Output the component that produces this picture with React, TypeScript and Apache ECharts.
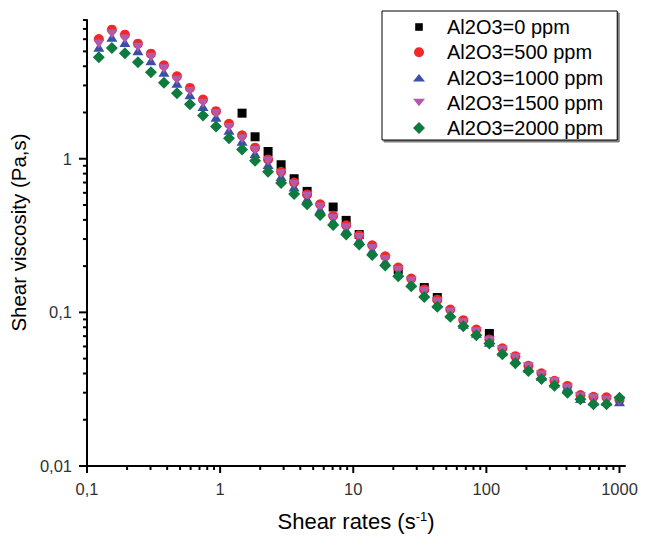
import React, { useEffect, useRef } from 'react';
import * as echarts from 'echarts';

// Shear rates (s^-1)
const shearRates = [0.1227, 0.1538, 0.1926, 0.2412, 0.302, 0.3783, 0.4738, 0.5934, 0.7437, 0.9312, 1.166, 1.461, 1.83, 2.292, 2.871, 3.595, 4.503, 5.64, 7.063, 8.847, 11.08, 13.88, 17.39, 21.77, 27.27, 34.16, 42.79, 53.58, 67.12, 84.07, 105.3, 131.9, 165.2, 206.9, 259.1, 324.6, 406.4, 509.1, 637.6, 798.6, 1000];

// Shear viscosity (Pa,s) per series
const visc0 = [null, null, null, null, null, null, null, null, null, null, null, 1.98, 1.39, 1.115, 0.914, 0.741, 0.613, null, 0.485, 0.397, 0.321, null, null, 0.19, null, 0.145, 0.125, null, null, null, 0.0729, null, null, null, null, null, null, null, null, null, null];
const visc500 = [6.02, 6.92, 6.42, 5.61, 4.83, 4.06, 3.44, 2.89, 2.43, 2.04, 1.69, 1.42, 1.18, 0.99, 0.823, 0.7, 0.586, 0.505, 0.425, 0.369, 0.317, 0.273, 0.232, 0.196, 0.166, 0.141, 0.121, 0.1044, 0.089, 0.0774, 0.0667, 0.0583, 0.0519, 0.0449, 0.0401, 0.0359, 0.0332, 0.029, 0.0282, 0.028, 0.0269];
const visc1000 = [5.31, 6.17, 5.72, 5.05, 4.35, 3.65, 3.1, 2.61, 2.19, 1.86, 1.53, 1.3, 1.08, 0.918, 0.767, 0.654, 0.548, 0.468, 0.394, 0.345, 0.297, 0.254, 0.215, 0.1825, 0.156, 0.1333, 0.1139, 0.098, 0.0838, 0.0732, 0.064, 0.0555, 0.0496, 0.0434, 0.0382, 0.0347, 0.0325, 0.0275, 0.0265, 0.0263, 0.0262];
const visc1500 = [5.59, 6.49, 6.02, 5.31, 4.57, 3.85, 3.26, 2.74, 2.3, 1.96, 1.6, 1.35, 1.13, 0.965, 0.799, 0.681, 0.569, 0.485, 0.408, 0.355, 0.307, 0.26, 0.221, 0.188, 0.16, 0.1373, 0.117, 0.1007, 0.0855, 0.0747, 0.0653, 0.0568, 0.0506, 0.0442, 0.0391, 0.0353, 0.0322, 0.0282, 0.0276, 0.0269, 0.0265];
const visc2000 = [4.57, 5.26, 4.86, 4.24, 3.65, 3.12, 2.67, 2.26, 1.91, 1.62, 1.36, 1.149, 0.97, 0.823, 0.694, 0.589, 0.505, 0.43, 0.37, 0.321, 0.277, 0.236, 0.2017, 0.1718, 0.148, 0.126, 0.1086, 0.0935, 0.0811, 0.0711, 0.0628, 0.0533, 0.0466, 0.0415, 0.0368, 0.0333, 0.03, 0.0272, 0.0252, 0.0252, 0.0278];

const seriesNames = ['Al2O3=0 ppm', 'Al2O3=500 ppm', 'Al2O3=1000 ppm', 'Al2O3=1500 ppm', 'Al2O3=2000 ppm'];
const seriesColors = ['#000000', '#f02828', '#3a4fa8', '#b45aaa', '#0f7a3e'];

// Axis ticks and labels
const xMajorTicks = [0.1, 1, 10, 100, 1000];
const xTickLabels = ['0,1', '1', '10', '100', '1000'];
const xMinorTicks = [0.2, 0.3, 0.4, 0.5, 0.6, 0.7, 0.8, 0.9, 2, 3, 4, 5, 6, 7, 8, 9, 20, 30, 40, 50, 60, 70, 80, 90, 200, 300, 400, 500, 600, 700, 800, 900];
const yMajorTicks = [0.01, 0.1, 1];
const yTickLabels = ['0,01', '0,1', '1'];
const yMinorTicks = [0.02, 0.03, 0.04, 0.05, 0.06, 0.07, 0.08, 0.09, 0.2, 0.3, 0.4, 0.5, 0.6, 0.7, 0.8, 0.9, 2, 3, 4, 5, 6, 7, 8];

const X_MIN = 0.1, X_MAX = 1100, Y_MIN = 0.01, Y_MAX = 8;
const FONT = "'Liberation Sans', Arial, sans-serif";

// legend icons inside a 12x12 box (leading moveTos fix the box)
const BOX = 'path://M0,0M12,12';
const legendIcons = [
  BOX + 'M2.2,2.2H9.8V9.8H2.2Z',
  BOX + 'M1,6A5,5,0,1,1,11,6A5,5,0,1,1,1,6Z',
  BOX + 'M6,2.5L12,10H0Z',
  BOX + 'M0,2H12L6,9.5Z',
  BOX + 'M6,0L12,6L6,12L0,6Z',
];

function labelFor(ticks: number[], labels: string[]) {
  return (v: number) => {
    for (let i = 0; i < ticks.length; i++) {
      if (Math.abs(Math.log10(v) - Math.log10(ticks[i])) < 1e-6) return labels[i];
    }
    return '';
  };
}

function pairs(ys: (number | null)[]) {
  const out: number[][] = [];
  ys.forEach((y, i) => { if (y != null) out.push([shearRates[i], y]); });
  return out;
}

function tickSeries(values: number[], axis: 'x' | 'y', len: number) {
  return {
    type: 'custom',
    silent: true,
    clip: false,
    z: 5,
    data: values.map((v) => (axis === 'x' ? [v, Y_MIN] : [X_MIN, v])),
    renderItem: (params: any, api: any) => {
      const p = api.coord([api.value(0), api.value(1)]);
      const shape = axis === 'x'
        ? { x1: p[0], y1: p[1], x2: p[0], y2: p[1] + len }
        : { x1: p[0], y1: p[1], x2: p[0] - len, y2: p[1] };
      return { type: 'line', shape, style: { stroke: '#000', lineWidth: 2 } };
    },
  };
}

export default function App() {
  const ref = useRef<HTMLDivElement>(null);
  useEffect(() => {
    if (!ref.current) return;
    const chart = echarts.init(ref.current, undefined, { renderer: 'svg' });
    const sc = (i: number, extra: any) => ({
      type: 'scatter',
      name: seriesNames[i],
      itemStyle: { color: seriesColors[i], opacity: 1 },
      ...extra,
    });
    chart.setOption({
      animation: false,
      backgroundColor: '#fff',
      grid: { left: 78, right: 25, top: 20, bottom: 73 },
      legend: {
        orient: 'vertical',
        left: 382,
        top: 11,
        itemWidth: 12,
        itemHeight: 12,
        itemGap: 5.25,
        padding: [6, 14, 2, 31],
        borderColor: '#000',
        borderWidth: 1,
        backgroundColor: '#fff',
        shadowColor: 'rgba(0,0,0,0.5)',
        shadowOffsetX: 2,
        shadowOffsetY: 2,
        shadowBlur: 0,
        textStyle: { fontSize: 20, color: '#000', fontFamily: FONT, padding: [0, 0, 0, 17] },
        data: seriesNames.map((n, i) => ({ name: n, icon: legendIcons[i], itemStyle: { color: seriesColors[i], opacity: 1 } })),
      },
      xAxis: {
        type: 'log',
        logBase: 10,
        min: X_MIN,
        max: X_MAX,
        name: 'Shear rates (s{sup|-1})',
        nameLocation: 'middle',
        nameGap: 44,
        nameTextStyle: {
          fontSize: 22, color: '#000', fontFamily: FONT,
          rich: { sup: { fontSize: 13, color: '#000', fontFamily: FONT, verticalAlign: 'top', padding: [0, 0, 8, 0] } },
        },
        axisLine: { lineStyle: { color: '#000', width: 2 } },
        axisTick: { show: false },
        splitLine: { show: false },
        axisLabel: { formatter: labelFor(xMajorTicks, xTickLabels), fontSize: 16.5, color: '#333', fontFamily: FONT, margin: 14 },
      },
      yAxis: {
        type: 'log',
        logBase: 10,
        min: Y_MIN,
        max: Y_MAX,
        name: 'Shear viscosity (Pa,s)',
        nameLocation: 'middle',
        nameGap: 42,
        nameTextStyle: { fontSize: 20.5, color: '#000', fontFamily: FONT, padding: [0, 0, 0, 21] },
        axisLine: { lineStyle: { color: '#000', width: 2 } },
        axisTick: { show: false },
        splitLine: { show: false },
        axisLabel: { formatter: labelFor(yMajorTicks, yTickLabels), fontSize: 16.5, color: '#333', fontFamily: FONT, margin: 15 },
      },
      series: [
        sc(0, { data: pairs(visc0), symbol: 'rect', symbolSize: 9 }),
        sc(1, { data: pairs(visc500), symbol: 'circle', symbolSize: 10 }),
        sc(2, { data: pairs(visc1000), symbol: 'triangle', symbolSize: [11, 9] }),
        sc(3, { data: pairs(visc1500), symbol: 'triangle', symbolRotate: 180, symbolSize: [11, 9] }),
        sc(4, { data: pairs(visc2000), symbol: 'diamond', symbolSize: 12 }),
        tickSeries(xMajorTicks, 'x', 7),
        tickSeries(xMinorTicks, 'x', 4),
        tickSeries(yMajorTicks, 'y', 8),
        tickSeries(yMinorTicks, 'y', 4),
      ],
    });
    return () => chart.dispose();
  }, []);
  return <div ref={ref} style={{ position: 'absolute', left: 0, top: 0, width: 650, height: 539 }} />;
}
